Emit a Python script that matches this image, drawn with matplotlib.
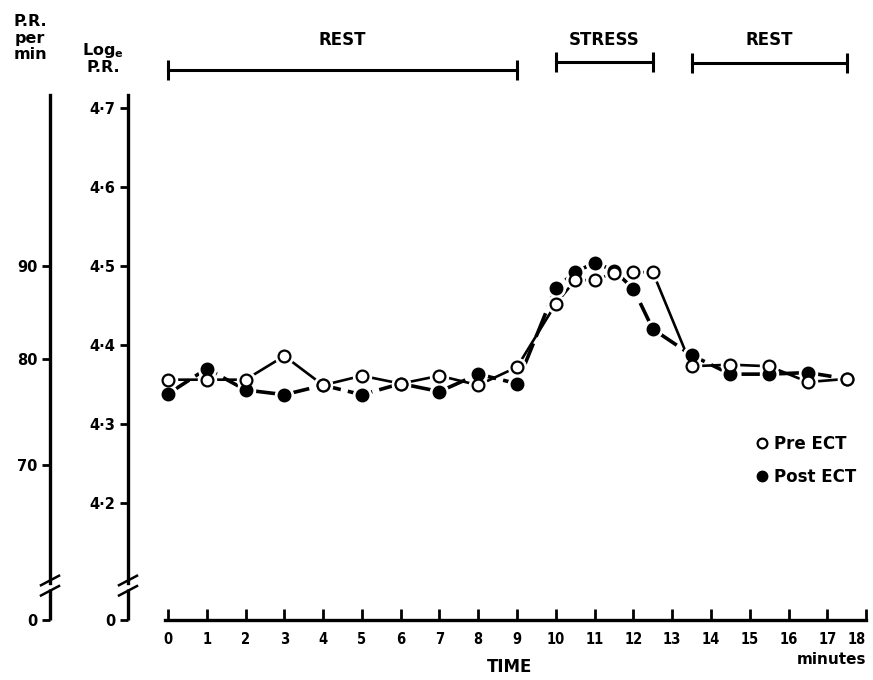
import numpy as np
import matplotlib.pyplot as plt
from matplotlib.lines import Line2D

# readings (log_e pulse rate) against time in minutes
times = [0, 1, 2, 3, 4, 5, 6, 7, 8, 9, 10, 10.5, 11, 11.5, 12, 12.5, 13.5, 14.5, 15.5, 16.5, 17.5]
pre_ect = [4.356, 4.356, 4.356, 4.386, 4.349, 4.361, 4.351, 4.361, 4.349, 4.372,
           4.452, 4.482, 4.482, 4.491, 4.492, 4.492, 4.373, 4.375, 4.373, 4.353, 4.357]
post_ect = [4.338, 4.370, 4.343, 4.337, 4.349, 4.337, 4.351, 4.341, 4.363, 4.351,
            4.472, 4.492, 4.504, 4.494, 4.471, 4.420, 4.387, 4.363, 4.363, 4.365, 4.357]

phase_names = ['REST', 'STRESS', 'REST']
phase_start = [0, 10, 13.5]
phase_end = [9, 12.5, 17.5]

log_ticks = [4.2, 4.3, 4.4, 4.5, 4.6, 4.7]
log_labels = ['4·2', '4·3', '4·4', '4·5', '4·6', '4·7']
pr_ticks = [70, 80, 90]
x_ticks = list(range(0, 19))

W, H = 873, 680
plt.rcParams['font.family'] = ['DejaVu Sans']
plt.rcParams['font.weight'] = 'bold'


def px_rect(l, t, r, b):
    return [l / W, 1 - b / H, (r - l) / W, (b - t) / H]


fig = plt.figure(figsize=(W / 100, H / 100), dpi=100)

YLIM = (4.052, 4.811)
ZERO = 4.052
TOP = 4.716
BREAK_HI, BREAK_LO = 4.102, 4.089

ax = fig.add_axes(px_rect(128, 20, 870, 620))
ax.set_xlim(-1.031, 18.10)
ax.set_ylim(*YLIM)
ax_pr = fig.add_axes(px_rect(50, 20, 60, 620))
ax_pr.set_ylim(*YLIM)
ax_pr.set_xlim(0, 1)


def broken_axis(a, ticks, labels):
    for s in ['top', 'right', 'bottom']:
        a.spines[s].set_visible(False)
    a.spines['left'].set_linewidth(2.4)
    a.spines['left'].set_bounds(BREAK_HI - 0.003, TOP)
    tr = a.get_yaxis_transform()
    a.plot([0, 0], [ZERO, BREAK_LO + 0.002], color='black', lw=2.4,
           transform=tr, clip_on=False, solid_capstyle='butt')
    # break marks
    dx = 9 / (a.get_position().width * W)
    for yb in [BREAK_HI, BREAK_LO]:
        a.plot([-dx, dx], [yb - 0.006, yb + 0.006], color='black', lw=1.8,
               transform=tr, clip_on=False)
    a.set_yticks([ZERO] + ticks)
    a.set_yticklabels(['0'] + labels)
    a.tick_params(axis='y', direction='out', length=6, width=2, labelsize=10.5, pad=3)


broken_axis(ax, log_ticks, log_labels)
broken_axis(ax_pr, list(np.log(pr_ticks)), [str(v) for v in pr_ticks])
ax_pr.set_xticks([])

# x axis
ax.spines['bottom'].set_visible(True)
ax.spines['bottom'].set_linewidth(2.4)
ax.spines['bottom'].set_bounds(-0.08, 18)
ax.set_xticks(x_ticks)
ax.set_xticklabels([str(v) for v in x_ticks], fontstretch='condensed')
ax.tick_params(axis='x', direction='in', length=8, width=2, labelsize=10.5, pad=9)
ax.get_xticklabels()[-1].set_horizontalalignment('right')

# series
ax.plot(times, pre_ect, color='black', lw=1.9, zorder=2)
ax.plot(times, post_ect, color='black', lw=2.6, ls=(0, (7, 2)), zorder=2)
for vals in [pre_ect, post_ect]:
    ax.plot(times, vals, 'o', ms=13, mfc='white', mec='white', zorder=3)
ax.plot(times, post_ect, 'o', ms=9, mfc='black', mec='black', zorder=4)
ax.plot(times, pre_ect, 'o', ms=8.5, mfc='white', mec='black', mew=1.6, zorder=5)

# phase bars
bar_y = [4.748, 4.758, 4.757]
for name, s, e, yb in zip(phase_names, phase_start, phase_end, bar_y):
    ax.plot([s, e], [yb, yb], color='black', lw=2.2, marker='|', ms=14, mew=2.2,
            clip_on=False)
    ax.text((s + e) / 2, 4.786, name, ha='center', va='center', fontsize=12,
            fontweight='bold')

# legend
handles = [Line2D([], [], marker='o', ls='none', mfc='white', mec='black', ms=7, mew=1.6),
           Line2D([], [], marker='o', ls='none', mfc='black', mec='black', ms=7.5)]
ax.legend(handles, ['Pre ECT', 'Post ECT'], loc='upper left',
          bbox_to_anchor=(742 / W, 1 - 420 / H), bbox_transform=fig.transFigure,
          frameon=False, handlelength=0.6, handletextpad=0.4, labelspacing=0.9,
          prop={'size': 12, 'weight': 'bold'})

# axis titles
fig.text(30 / W, 1 - 38 / H, 'P.R.\nper\nmin', ha='center', va='center',
         fontsize=11.5, fontweight='bold', linespacing=1.1)
fig.text(103 / W, 1 - 58 / H, 'Log$_\\mathbf{e}$\nP.R.', ha='center', va='center',
         fontsize=11.5, fontweight='bold', linespacing=1.05)
fig.text(510 / W, 1 - 667 / H, 'TIME', ha='center', va='center', fontsize=12,
         fontweight='bold')
fig.text(832 / W, 1 - 660 / H, 'minutes', ha='center', va='center', fontsize=11,
         fontweight='bold')

fig.savefig('out.png', dpi=100, facecolor='white')
